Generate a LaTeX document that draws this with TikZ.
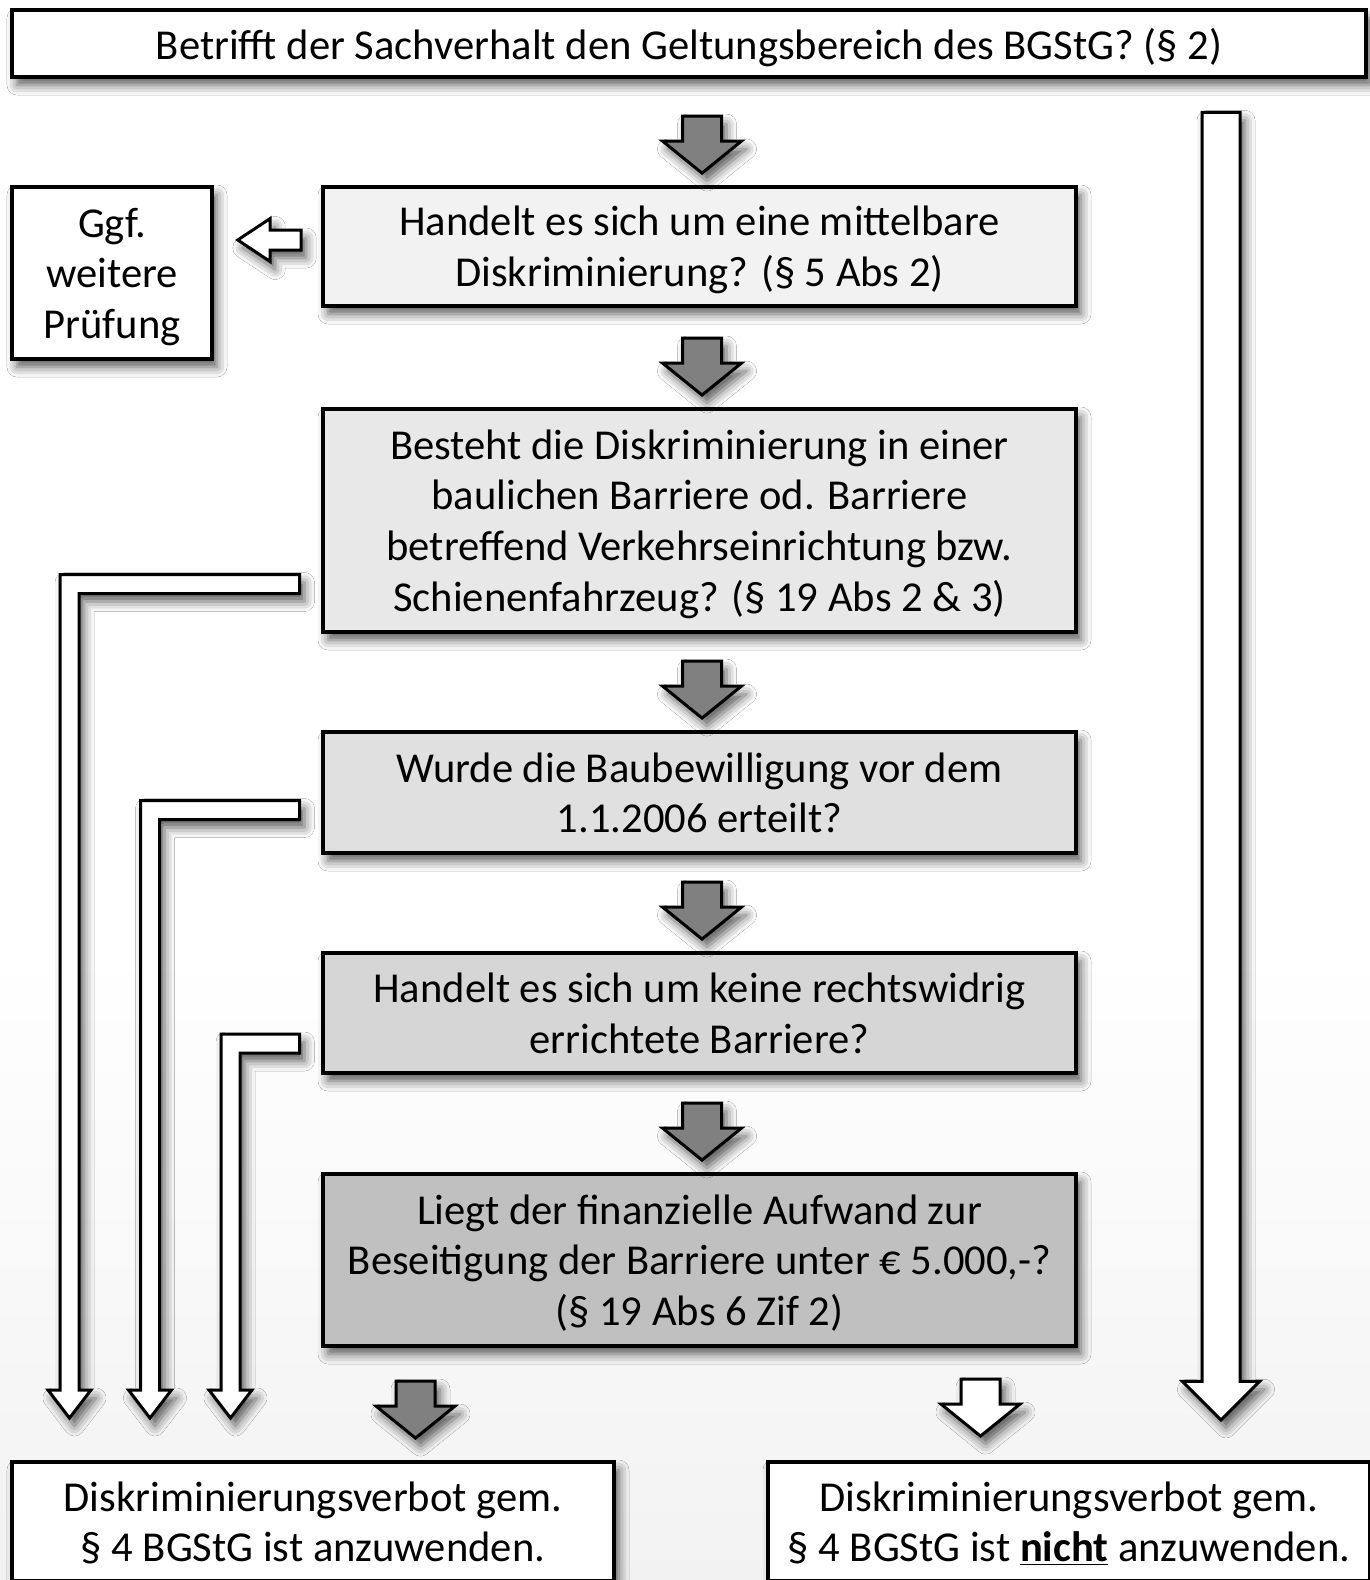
\documentclass[tikz,border=0pt]{standalone}
\usepackage{fontspec}
\setmainfont{Carlito}
\usetikzlibrary{positioning,shapes.arrows,shadows.blur}

\definecolor{fillA}{HTML}{F2F2F2}
\definecolor{fillB}{HTML}{E8E8E8}
\definecolor{fillC}{HTML}{E0E0E0}
\definecolor{fillD}{HTML}{D6D6D6}
\definecolor{fillE}{HTML}{C0C0C0}
\definecolor{bgbot}{HTML}{E2E2E2}
\pgfdeclareverticalshading{bgshade}{100bp}{color(0bp)=(bgbot); color(45bp)=(white); color(100bp)=(white)}

\tikzstyle{shadowed} = [blur shadow={shadow xshift=2.5pt, shadow yshift=-4pt,
    shadow blur radius=5pt, shadow opacity=65}]
\tikzstyle{box} = [rectangle, draw, line width=2pt, align=center, inner sep=0pt,
    text depth=0pt, minimum width=376.5pt, shadowed,
    font=\fontsize{21.3}{25.3}\selectfont]
\tikzstyle{blockarrow} = [single arrow, draw, line width=1.5pt, inner sep=9pt,
    single arrow head extend=10pt, single arrow tip angle=102,
    minimum height=28.5pt, anchor=tip, shadowed]
\tikzstyle{grayarrow} = [blockarrow, fill=gray, rotate=-90]
\tikzstyle{whitearrow} = [blockarrow, fill=white, rotate=-90]
\tikzstyle{elbow} = [draw, line width=1.5pt, fill=white, line join=miter, shadowed]

% elbow arrow: #1 = y of upper edge, #2 = x of outer edge
\newcommand\elbowarrow[2]{%
  \path[elbow] (299.5,#1) -- (#2,#1) -- (#2,1390) -- ++(-12,0)
    -- ({#2+9.5},1418) -- ({#2+31},1390) -- ({#2+19},1390)
    -- ({#2+19},{#1+19}) -- (299.5,{#1+19}) -- cycle;}

\begin{document}
\begin{tikzpicture}[x=0.5pt,y=-0.5pt,node distance=48pt]

  \useasboundingbox (0,0) rectangle (1370,1580);
  \shade[shading=bgshade] (0,0) rectangle (1370,1580);

  \node[box,fill=white,minimum width=677pt,minimum height=33.5pt] (0) at (689,43.5)
    {Betrifft der Sachverhalt den Geltungsbereich des BGStG? (§ 2)};
  \node[box,fill=fillA,minimum height=59.5pt] (1) [below=53pt of 0,xshift=5.25pt]
    {Handelt es sich um eine mittelbare\\Diskriminierung? (§ 5 Abs 2)};
  \node[box,fill=fillB,minimum height=111.5pt] (2) [below=49.5pt of 1]
    {Besteht die Diskriminierung in einer\\baulichen Barriere od. Barriere\\betreffend Verkehrseinrichtung bzw.\\Schienenfahrzeug? (§ 19 Abs 2 \& 3)};
  \node[box,fill=fillC,minimum height=60.5pt] (3) [below=48pt of 2]
    {Wurde die Baubewilligung vor dem\\1.1.2006 erteilt?};
  \node[box,fill=fillD,minimum height=60pt] (4) [below=48pt of 3]
    {Handelt es sich um keine rechtswidrig\\errichtete Barriere?};
  \node[box,fill=fillE,minimum height=86pt] (5) [below=48.5pt of 4]
    {Liegt der finanzielle Aufwand zur\\Beseitigung der Barriere unter € 5.000,-?\\(§ 19 Abs 6 Zif 2)};

  \node[box,fill=white,minimum width=100pt,minimum height=86pt,anchor=north east]
    (ggf) at ([xshift=-53.5pt]1.north west) {Ggf.\\weitere\\Prüfung};

  \node[box,fill=white,minimum width=301pt,minimum height=59.5pt] (anw) at (313,1521.5)
    {Diskriminierungsverbot gem.\\§ 4 BGStG ist anzuwenden.};
  \node[box,fill=white,minimum width=301pt,minimum height=59.5pt] (nanw) [right=75pt of anw]
    {Diskriminierungsverbot gem.\\§ 4 BGStG ist \textbf{\underline{nicht}} anzuwenden.};

  % arrows between the questions
  \node[grayarrow] (a1) at ([xshift=1.25pt,yshift=5pt]1.north) {};
  \node[grayarrow] (a2) at ([xshift=1.25pt,yshift=5pt]2.north) {};
  \node[grayarrow] (a3) at ([xshift=1.25pt,yshift=5pt]3.north) {};
  \node[grayarrow] (a4) at ([xshift=1.25pt,yshift=5pt]4.north) {};
  \node[grayarrow] (a5) at ([xshift=1.25pt,yshift=5pt]5.north) {};
  \node[grayarrow] (a6) at ([xshift=51.25pt,yshift=10pt]anw.north) {};
  \node[whitearrow] (a7) at ([xshift=-44.25pt,yshift=11pt]nanw.north) {};

  % long arrow from the top question
  \node[whitearrow,inner sep=8.75pt,single arrow head extend=9.75pt,
    single arrow tip angle=90,minimum height=653.75pt]
    (a8) at ([xshift=76pt,yshift=19pt]nanw.north) {};

  % arrow to further examination
  \node[blockarrow,fill=white,rotate=180,inner sep=4.25pt,
    single arrow head extend=5.75pt,single arrow tip angle=67,minimum height=31.75pt]
    (a9) at ([xshift=10.5pt,yshift=16.5pt]ggf.east) {};

  % "no" branches
  \elbowarrow{574.5}{60}
  \elbowarrow{800.5}{140.5}
  \elbowarrow{1034}{221}

\end{tikzpicture}
\end{document}
